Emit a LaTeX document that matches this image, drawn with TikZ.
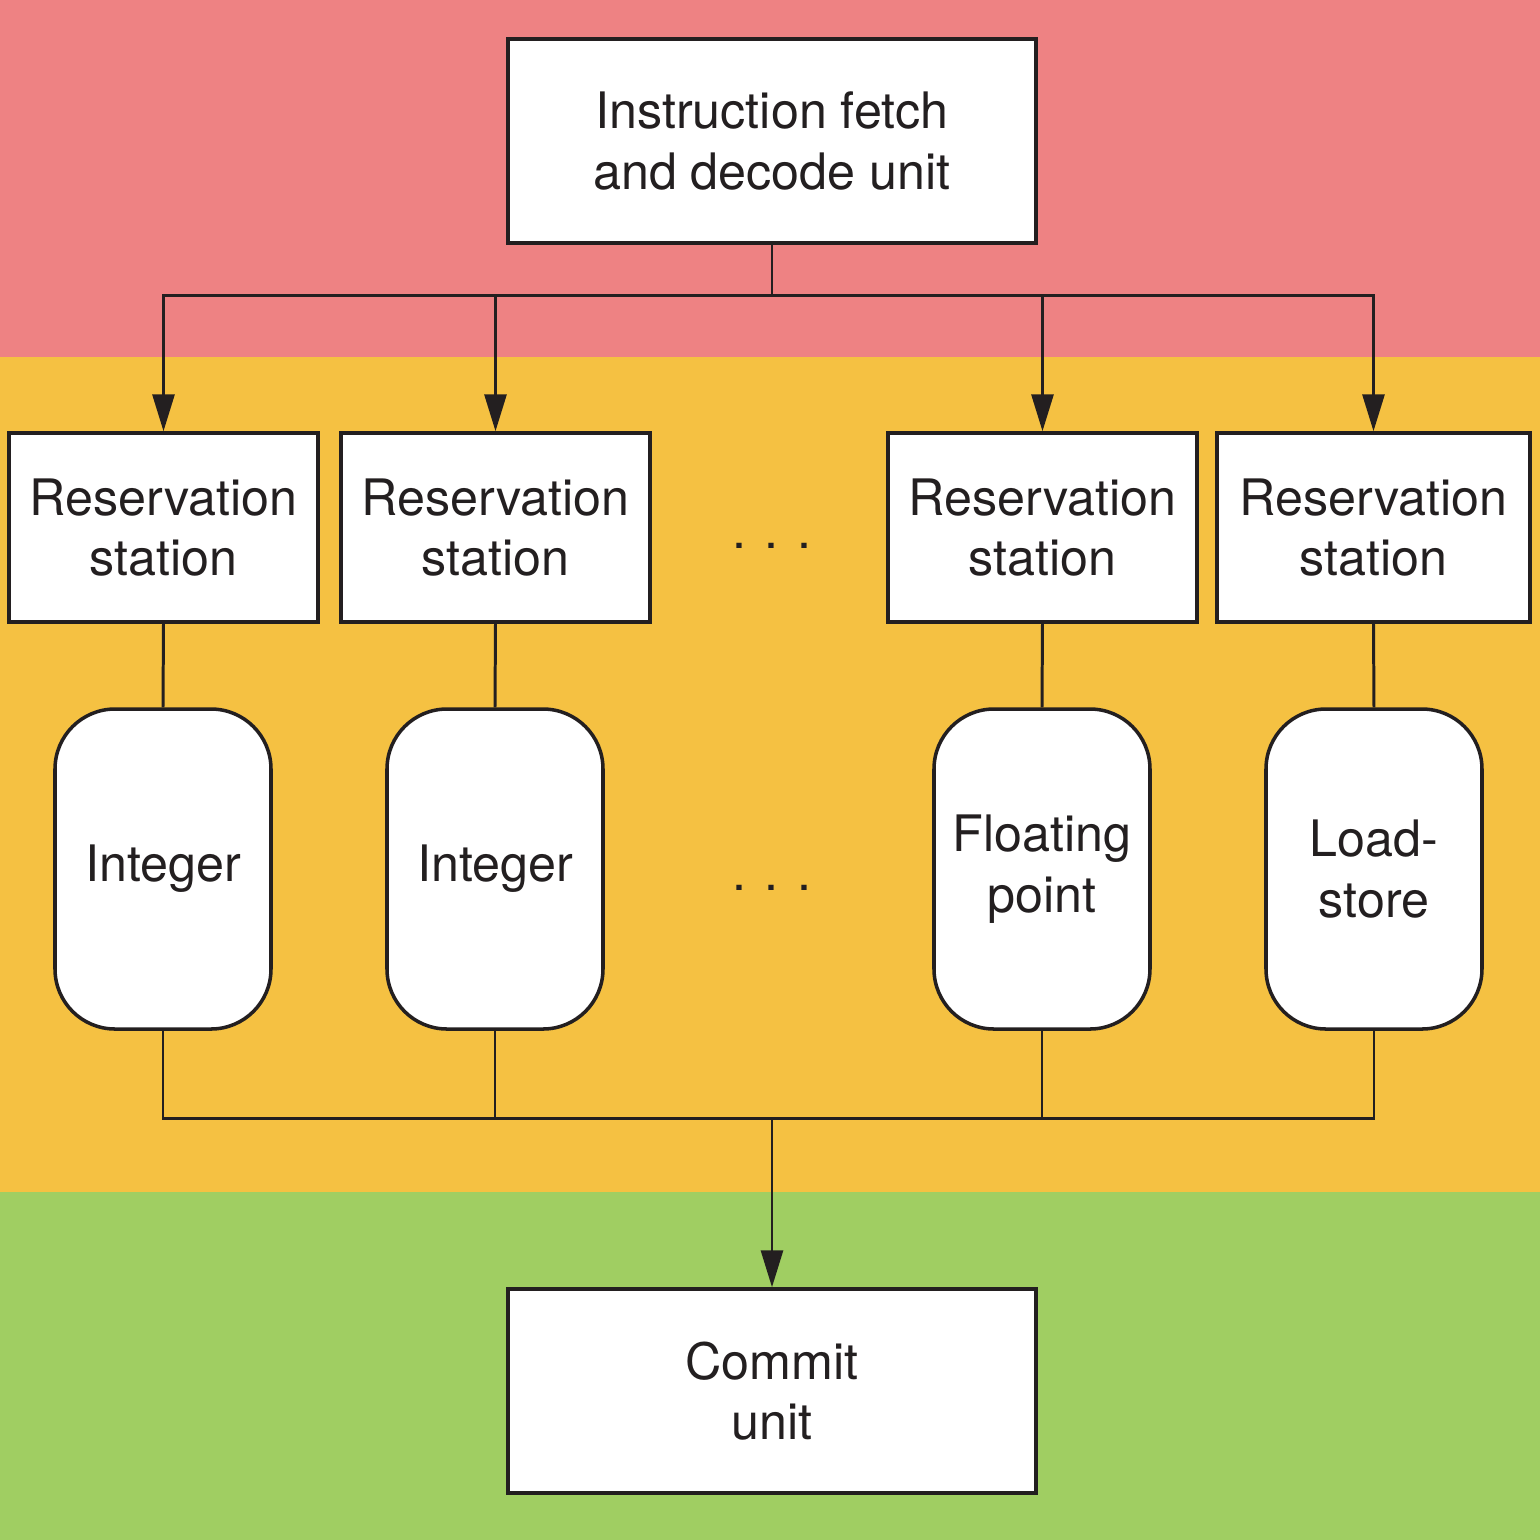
\documentclass[tikz,border=0pt]{standalone}
\usepackage{fontspec}
\setmainfont{TeX Gyre Heros}
\usetikzlibrary{arrows.meta}

\definecolor{issuered}{HTML}{EE8283}
\definecolor{execorange}{HTML}{F5C142}
\definecolor{commitgreen}{HTML}{A0CE62}
\definecolor{inkgray}{HTML}{231F20}

\begin{document}
\begin{tikzpicture}[
	unit/.style = {draw = inkgray, line width = 1pt, fill = white, align = center, inner sep = 0pt, text = inkgray, font = \fontsize{14.3}{17.2}\selectfont},
	bigbox/.style = {unit, minimum width = 5.28cm, minimum height = 2.04cm},
	station/.style = {unit, minimum width = 3.09cm, minimum height = 1.89cm},
	funit/.style = {unit, rounded corners = 0.6cm, minimum width = 2.16cm, minimum height = 3.2cm},
	wire/.style = {draw = inkgray, line width = 0.85pt},
	feed/.style = {wire, -{Triangle[length = 0.37cm, width = 0.22cm]}},
	gap/.style = {text = inkgray, font = \fontsize{14.3}{17.2}\selectfont}
]
	% bands
	\fill[issuered] (0, 0) rectangle (15.4, -3.57);
	\fill[execorange] (0, -3.57) rectangle (15.4, -11.92);
	\fill[commitgreen] (0, -11.92) rectangle (15.4, -15.4);

	\node[bigbox] (fetch) at (7.72, -1.41) {Instruction fetch\\and decode unit};

	\node[station] (rs1) at (1.635, -5.275) {Reservation\\station};
	\node[station] (rs2) at (4.955, -5.275) {Reservation\\station};
	\node[station] (rs3) at (10.425, -5.275) {Reservation\\station};
	\node[station, minimum width = 3.13cm] (rs4) at (13.735, -5.275) {Reservation\\station};
	\node[gap] (dots1) at (7.72, -5.46) {. . .};

	\node[funit] (int1) at (1.63, -8.69) {Integer};
	\node[funit] (int2) at (4.95, -8.69) {Integer};
	\node[funit] (fpu) at (10.42, -8.69) {Floating\\point};
	\node[funit] (lsu) at (13.74, -8.69) {Load-\\store};
	\node[gap] (dots2) at (7.72, -8.88) {. . .};

	\node[bigbox] (commit) at (7.72, -13.91) {Commit\\unit};

	% issue
	\coordinate (split) at (7.72, -2.95);
	\draw[wire] (fetch.south) -- (split);
	\draw[feed] (split) -| (rs1.north);
	\draw[feed] (split) -| (rs2.north);
	\draw[feed] (split) -| (rs3.north);
	\draw[feed] (split) -| (rs4.north);

	\draw[wire] (rs1.south) -- (int1.north);
	\draw[wire] (rs2.south) -- (int2.north);
	\draw[wire] (rs3.south) -- (fpu.north);
	\draw[wire] (rs4.south) -- (lsu.north);

	% results
	\coordinate (merge) at (7.72, -11.18);
	\draw[wire] (int1.south) |- (merge) -| (lsu.south);
	\draw[wire] (int2.south) -- (int2.south |- merge);
	\draw[wire] (fpu.south) -- (fpu.south |- merge);
	\draw[feed] (merge) -- (commit.north);
\end{tikzpicture}
\end{document}
